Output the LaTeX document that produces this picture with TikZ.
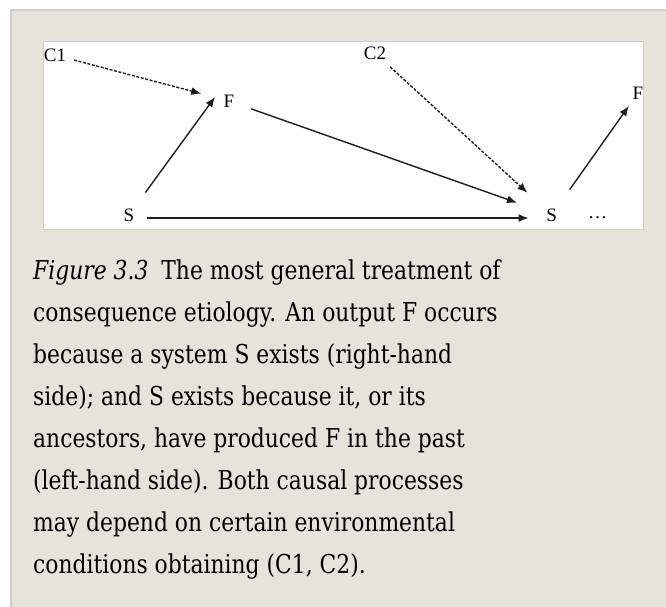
\documentclass[tikz,border=0pt]{standalone}
\usepackage{fontspec}
\setmainfont{DejaVu Serif}[FakeStretch=0.84]
\newfontfamily\figfont{Liberation Serif}
\usetikzlibrary{arrows.meta,positioning,calc}
\definecolor{PanelBeige}{RGB}{229,227,218}
\definecolor{PanelEdge}{RGB}{208,207,203}
\definecolor{LineGray}{RGB}{30,30,30}
\tikzset{
  lbl/.style={font=\figfont\fontsize{19}{19}\selectfont,inner sep=0pt,text=black},
  arrow/.style={-{Latex[length=10pt,width=8pt]},line width=1.4pt,color=LineGray},
  dasharrow/.style={arrow,dash pattern=on 3pt off 1.6pt}
}
\begin{document}
\begin{tikzpicture}[x=1pt,y=-1pt]
  \useasboundingbox (0,0) rectangle (666,607);
  \fill[white] (0,0) rectangle (666,607);
  % panel and figure box
  \draw[PanelEdge,fill=PanelBeige,line width=2pt] (11,10) rectangle (690,630);
  \draw[PanelEdge,fill=white,line width=1pt] (43,42) rectangle (643,229);
  % labels
  \node[lbl] (c1) at (55,55) {C1};
  \node[lbl] (f1) at (229,101) {F};
  \node[lbl] (s1) at (129,215) {S};
  \node[lbl] (c2) at (375,53) {C2};
  \node[lbl] (s2) at (551.7,215) {S};
  \node[lbl,anchor=base] (dots) at (597.7,218) {\ldots};
  \node[lbl] (f2) at (638,93) {F};
  \coordinate (f1in) at ([xshift=-14pt,yshift=4pt]f1.center);
  % causal arrows
  \draw[dasharrow,shorten <=8pt,shorten >=23pt] (c1) -- (f1);
  \draw[arrow,shorten <=19.7pt] (s1) -- (f1in);
  \draw[arrow,shorten <=17.8pt,shorten >=31pt] (f1) -- (s2);
  \draw[arrow,shorten <=13pt,shorten >=17.7pt] ([yshift=-3pt]s1.east) -- ([yshift=-3pt]s2.west);
  \draw[dasharrow,shorten <=10.7pt,shorten >=25.5pt] (c2) -- (s2);
  \draw[arrow,shorten <=23pt,shorten >=8pt] (s2) -- (f2);
  % caption
  \node[anchor=base west,align=left,inner sep=0pt,font=\fontsize{26}{41.9}\selectfont] (caption) at (33,573)
    {\textit{Figure 3.3}\enspace The most general treatment of\\
     consequence etiology. An output F occurs\\
     because a system S exists (right-hand\\
     side); and S exists because it, or its\\
     ancestors, have produced F in the past\\
     (left-hand side). Both causal processes\\
     may depend on certain environmental\\
     conditions obtaining (C1, C2).};
\end{tikzpicture}
\end{document}
